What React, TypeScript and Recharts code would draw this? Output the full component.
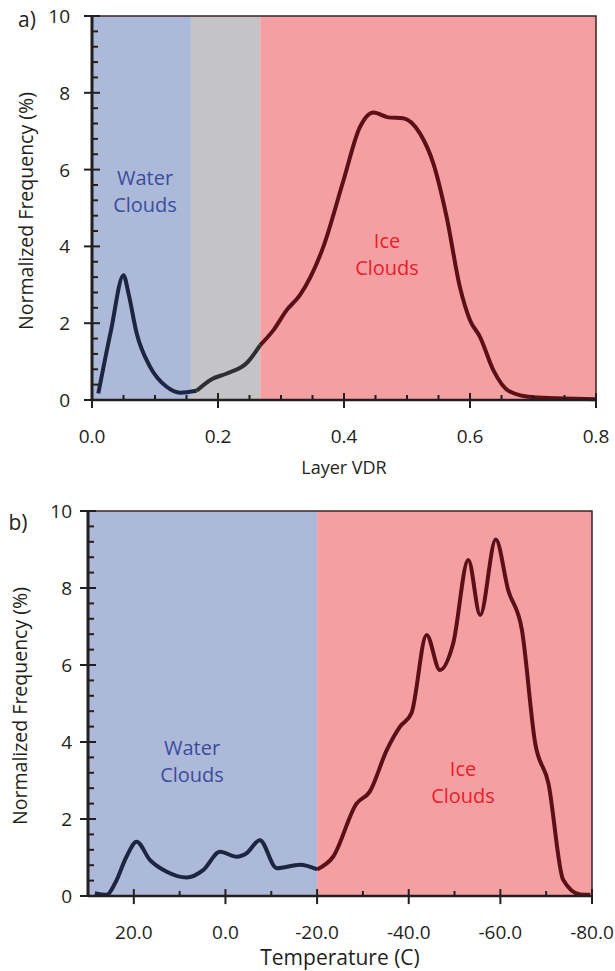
import { ComposedChart, Line, XAxis, YAxis, ReferenceArea, ReferenceLine } from "recharts";

// panel a) layer VDR distribution
const vdr = [0.01, 0.03, 0.05, 0.058, 0.071, 0.092, 0.118, 0.14, 0.166, 0.19, 0.214, 0.246, 0.267, 0.288, 0.309, 0.33, 0.367, 0.399, 0.425, 0.447, 0.47, 0.494, 0.521, 0.542, 0.563, 0.584, 0.6, 0.616, 0.637, 0.663, 0.7, 0.75, 0.8];
const vdrFreq = [0.17, 1.8, 3.25, 2.77, 1.73, 0.87, 0.35, 0.19, 0.24, 0.54, 0.69, 0.97, 1.43, 1.82, 2.34, 2.73, 3.98, 5.71, 7.1, 7.49, 7.36, 7.34, 6.93, 6.15, 4.76, 2.94, 2.08, 1.64, 0.78, 0.22, 0.07, 0.04, 0.02];
const vdrTicks = [0, 0.05, 0.1, 0.15, 0.2, 0.25, 0.3, 0.35, 0.4, 0.45, 0.5, 0.55, 0.6, 0.65, 0.7, 0.75, 0.8];
const vdrWaterMax = 0.157;
const vdrIceMin = 0.267;

// panel b) temperature distribution
const temp = [28.5, 25.9, 24.1, 21.6, 19.4, 16.5, 12.8, 8.5, 4.8, 1.2, -2.5, -4.6, -7.5, -11.2, -16.3, -20, -23.5, -28.6, -31.5, -35.2, -38.1, -40.6, -43.9, -46.8, -49.7, -53.0, -55.6, -59.0, -61.7, -64.7, -67.6, -70.5, -73.7, -77.4, -79.6];
const tempFreq = [0.07, 0.03, 0.33, 1.02, 1.41, 0.94, 0.63, 0.48, 0.68, 1.15, 1.02, 1.11, 1.45, 0.72, 0.81, 0.69, 1.02, 2.4, 2.71, 3.79, 4.4, 4.75, 6.78, 5.87, 6.56, 8.73, 7.3, 9.26, 7.95, 6.91, 3.97, 2.92, 0.42, 0.04, 0.03];
const tempTicks = [20, 10, 0, -10, -20, -30, -40, -50, -60, -70, -80];
const tempBoundary = -20;

const freqTicks = [0, 0.4, 0.8, 1.2, 1.6, 2, 2.4, 2.8, 3.2, 3.6, 4, 4.4, 4.8, 5.2, 5.6, 6, 6.4, 6.8, 7.2, 7.6, 8, 8.4, 8.8, 9.2, 9.6, 10];

const FONT = "'Open Sans', sans-serif";
const AXIS = "#231f20";
const BLUE_BG = "#adb9d9";
const GRAY_BG = "#c4c4c6";
const RED_BG = "#f4a0a3";
const WATER_LINE = "#1c2541";
const MIXED_LINE = "#2f2f31";
const ICE_LINE = "#5c1016";
const WATER_TEXT = "#3b4c9e";
const ICE_TEXT = "#ec1c2a";

const pick = (xs: number[], ys: number[], lo: number, hi: number) =>
  xs.map((x, i) => ({ x, f: ys[i] })).filter((d) => d.x >= lo && d.x <= hi);

// tick labels only; the tick marks are drawn as reference segments
function XTick(props: any) {
  const x = Number(props.x);
  const y = Number(props.y);
  const v = props.payload.value;
  const major = Math.abs(v / props.step - Math.round(v / props.step)) < 1e-6;
  if (!major) return <g />;
  return (
    <text x={x} y={y + 43} textAnchor="middle" fontFamily={FONT} fontSize={19} fill="#231f20">
      {v.toFixed(1)}
    </text>
  );
}

function YTick(props: any) {
  const x = Number(props.x);
  const y = Number(props.y);
  if (props.index % 5 !== 0) return <g />;
  return (
    <text x={x - props.gap} y={y + 7} textAnchor="end" fontFamily={FONT} fontSize={19} fill="#231f20">
      {Math.round(props.payload.value)}
    </text>
  );
}

// tick marks: majors cross the axis, minors point inward
function xTickMarks(ticks: number[], isMajor: (v: number, i: number) => boolean) {
  return ticks.map((t, i) => (
    <ReferenceLine
      key={`xt${i}`}
      segment={isMajor(t, i) ? [{ x: t, y: -0.21 }, { x: t, y: 0.18 }] : [{ x: t, y: 0 }, { x: t, y: 0.13 }]}
      stroke={AXIS}
      strokeWidth={2}
      ifOverflow="visible"
    />
  ));
}

function yTickMarks(x0: number, unitPerPx: number) {
  return freqTicks.map((t, i) => (
    <ReferenceLine
      key={`yt${i}`}
      segment={i % 5 === 0 ? [{ x: x0 - 8 * unitPerPx, y: t }, { x: x0 + 8 * unitPerPx, y: t }] : [{ x: x0, y: t }, { x: x0 + 6 * unitPerPx, y: t }]}
      stroke={AXIS}
      strokeWidth={2}
      ifOverflow="visible"
    />
  ));
}

const abs = (left: number, top: number, extra: any = {}) => ({
  position: "absolute" as const,
  left,
  top,
  transform: "translate(-50%, -50%)",
  fontFamily: FONT,
  whiteSpace: "nowrap" as const,
  lineHeight: 1,
  ...extra,
});

function VdrPanel() {
  return (
    <ComposedChart width={615} height={470} margin={{ top: 16, right: 19, bottom: 0, left: 0 }}>
      <ReferenceArea x1={0} x2={vdrWaterMax} y1={0} y2={10} fill={BLUE_BG} fillOpacity={1} strokeWidth={0} />
      <ReferenceArea x1={vdrWaterMax} x2={vdrIceMin} y1={0} y2={10} fill={GRAY_BG} fillOpacity={1} strokeWidth={0} />
      <ReferenceArea x1={vdrIceMin} x2={0.8} y1={0} y2={10} fill={RED_BG} fillOpacity={1} strokeWidth={0} />
      <ReferenceArea x1={0} x2={0.8} y1={0} y2={10} fill="none" stroke="#3a2527" strokeWidth={1.5} />
      <Line data={pick(vdr, vdrFreq, 0, 0.166)} dataKey="f" type="monotone" stroke={WATER_LINE} strokeWidth={4} dot={false} isAnimationActive={false} />
      <Line data={pick(vdr, vdrFreq, 0.166, vdrIceMin)} dataKey="f" type="monotone" stroke={MIXED_LINE} strokeWidth={4} dot={false} isAnimationActive={false} />
      <Line data={pick(vdr, vdrFreq, vdrIceMin, 0.8)} dataKey="f" type="monotone" stroke={ICE_LINE} strokeWidth={4} dot={false} isAnimationActive={false} />
      {xTickMarks(vdrTicks, (_v, i) => i % 4 === 0)}
      {yTickMarks(0, 0.8 / 504)}
      <XAxis type="number" dataKey="x" domain={[0, 0.8]} ticks={vdrTicks} interval={0} height={70} tickSize={0} tickMargin={0} tickLine={false} tick={<XTick step={0.2} />} stroke="#231f20" strokeWidth={2.5} />
      <YAxis type="number" domain={[0, 10]} ticks={freqTicks} interval={0} width={92} tickSize={0} tickMargin={0} tickLine={false} tick={<YTick gap={22} />} stroke="#231f20" strokeWidth={3} />
    </ComposedChart>
  );
}

function TempPanel() {
  return (
    <ComposedChart width={615} height={481} margin={{ top: 21, right: 23, bottom: 0, left: 0 }}>
      <ReferenceArea x1={tempBoundary} x2={30} y1={0} y2={10} fill={BLUE_BG} fillOpacity={1} strokeWidth={0} />
      <ReferenceArea x1={-80} x2={tempBoundary} y1={0} y2={10} fill={RED_BG} fillOpacity={1} strokeWidth={0} />
      <ReferenceArea x1={-80} x2={30} y1={0} y2={10} fill="none" stroke="#3a2527" strokeWidth={1.5} />
      <Line data={pick(temp, tempFreq, tempBoundary, 30)} dataKey="f" type="monotone" stroke={WATER_LINE} strokeWidth={4} dot={false} isAnimationActive={false} />
      <Line data={pick(temp, tempFreq, -80, tempBoundary)} dataKey="f" type="monotone" stroke={ICE_LINE} strokeWidth={4} dot={false} isAnimationActive={false} />
      {xTickMarks(tempTicks, (v) => v % 20 === 0)}
      {yTickMarks(30, -110 / 504)}
      <XAxis type="number" dataKey="x" domain={[-80, 30]} reversed ticks={tempTicks} interval={0} height={75} tickSize={0} tickMargin={0} tickLine={false} tick={<XTick step={20} />} stroke="#231f20" strokeWidth={2.5} />
      <YAxis type="number" domain={[0, 10]} ticks={freqTicks} interval={0} width={88} tickSize={0} tickMargin={0} tickLine={false} tick={<YTick gap={16} />} stroke="#231f20" strokeWidth={3} />
    </ComposedChart>
  );
}

export default function App() {
  return (
    <div style={{ position: "absolute", left: 0, top: 0, width: 615, height: 971, background: "#fff" }}>
      <div style={abs(27, 19, { fontSize: 21, color: AXIS })}>a)</div>
      <div style={abs(18, 522, { fontSize: 21, color: AXIS })}>b)</div>
      <div style={abs(26, 211, { fontSize: 19.5, color: AXIS, transform: "translate(-50%, -50%) rotate(-90deg)" })}>
        Normalized Frequency (%)
      </div>
      <div style={abs(20, 706, { fontSize: 19.5, color: AXIS, transform: "translate(-50%, -50%) rotate(-90deg)" })}>
        Normalized Frequency (%)
      </div>
      <div style={abs(344, 467, { fontSize: 18, color: AXIS })}>Layer VDR</div>
      <div style={abs(340, 957, { fontSize: 21, color: AXIS })}>Temperature (C)</div>

      <div style={{ position: "absolute", left: 0, top: 0 }}>
        <VdrPanel />
      </div>
      <div style={{ position: "absolute", left: 0, top: 490 }}>
        <TempPanel />
      </div>

      <div style={abs(145, 191, { fontSize: 20, color: WATER_TEXT, textAlign: "center", lineHeight: "27px" })}>
        Water<br />Clouds
      </div>
      <div style={abs(387, 254, { fontSize: 20, color: ICE_TEXT, textAlign: "center", lineHeight: "27px" })}>
        Ice<br />Clouds
      </div>
      <div style={abs(192, 761, { fontSize: 20, color: WATER_TEXT, textAlign: "center", lineHeight: "27px" })}>
        Water<br />Clouds
      </div>
      <div style={abs(463, 782, { fontSize: 20, color: ICE_TEXT, textAlign: "center", lineHeight: "27px" })}>
        Ice<br />Clouds
      </div>
    </div>
  );
}
